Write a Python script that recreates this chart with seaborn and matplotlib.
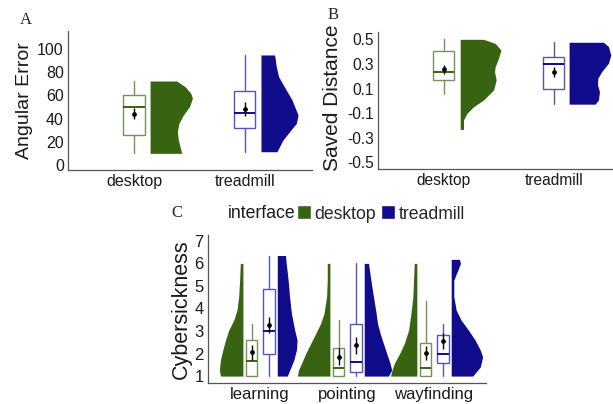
import numpy as np
import matplotlib
matplotlib.use('Agg')
import matplotlib.pyplot as plt
from matplotlib.patches import Patch
from matplotlib.colors import to_rgb
import seaborn as sns

# ---- data ----
interfaces = ['desktop', 'treadmill']
tasks = ['learning', 'pointing', 'wayfinding']

# A: angular error (box stats per interface)
A_whislo = [10.0, 11.4]
A_q1 = [25.6, 32.2]
A_med = [49.8, 45.1]
A_q3 = [60.7, 64.1]
A_whishi = [72.5, 95.0]
A_mean = [44.0, 48.3]
A_ci_lo = [39.7, 42.5]
A_ci_hi = [49.1, 54.1]
# half violin outlines (value, half width)
A_desk_v = [72.5, 67.6, 61.9, 57.6, 50.3, 43.1, 35.9, 28.7, 21.5, 15.7, 10.0]
A_desk_w = [0.24, 0.316, 0.367, 0.382, 0.355, 0.30, 0.26, 0.246, 0.255, 0.27, 0.286]
A_tread_v = [95.0, 84.9, 76.2, 67.6, 56.1, 43.1, 35.9, 30.2, 21.5, 11.4]
A_tread_w = [0.123, 0.138, 0.159, 0.21, 0.28, 0.334, 0.319, 0.27, 0.198, 0.144]

# B: saved distance
B_whislo = [0.053, -0.026]
B_q1 = [0.167, 0.093]
B_med = [0.237, 0.302]
B_q3 = [0.405, 0.359]
B_whishi = [0.50, 0.476]
B_mean = [0.256, 0.237]
B_ci_lo = [0.218, 0.191]
B_ci_hi = [0.291, 0.277]
B_desk_v = [0.50, 0.467, 0.413, 0.345, 0.278, 0.237, 0.169, 0.088, 0.007, -0.048, -0.102, -0.156, -0.232]
B_desk_w = [0.212, 0.318, 0.37, 0.348, 0.318, 0.312, 0.327, 0.303, 0.212, 0.121, 0.061, 0.03, 0.03]
B_tread_v = [0.476, 0.441, 0.373, 0.306, 0.238, 0.184, 0.130, 0.075, 0.008, -0.027]
B_tread_w = [0.312, 0.358, 0.379, 0.358, 0.297, 0.261, 0.258, 0.276, 0.267, 0.236]

# C: cybersickness per task
C_desk_whislo = [1.0, 1.0, 1.0]
C_desk_q1 = [1.0, 1.0, 1.0]
C_desk_med = [1.67, 1.37, 1.37]
C_desk_q3 = [2.6, 2.26, 2.48]
C_desk_whishi = [3.31, 3.48, 4.33]
C_desk_mean = [2.05, 1.86, 2.03]
C_desk_ci_lo = [1.71, 1.49, 1.71]
C_desk_ci_hi = [2.38, 2.23, 2.33]
C_tread_whislo = [1.0, 1.0, 1.0]
C_tread_q1 = [2.0, 1.16, 1.56]
C_tread_med = [3.01, 1.63, 2.0]
C_tread_q3 = [4.85, 3.31, 2.82]
C_tread_whishi = [6.35, 6.0, 3.29]
C_tread_mean = [3.26, 2.38, 2.57]
C_tread_ci_lo = [2.92, 2.0, 2.18]
C_tread_ci_hi = [3.6, 2.74, 2.9]

C_desk_v = [
    [6.0, 5.26, 4.52, 3.93, 3.48, 3.04, 2.6, 2.15, 1.71, 1.27, 1.0],
    [6.0, 5.26, 4.52, 3.78, 3.34, 2.89, 2.45, 2.0, 1.56, 1.27, 1.0],
    [6.0, 5.26, 4.52, 3.78, 3.04, 2.45, 2.0, 1.56, 1.27, 1.0],
]
C_desk_w = [
    [0.03, 0.038, 0.049, 0.068, 0.106, 0.163, 0.2, 0.232, 0.259, 0.27, 0.259],
    [0.03, 0.03, 0.038, 0.068, 0.106, 0.163, 0.22, 0.278, 0.327, 0.361, 0.373],
    [0.03, 0.038, 0.046, 0.068, 0.095, 0.144, 0.198, 0.259, 0.285, 0.304],
]
C_tread_v = [
    [6.35, 6.0, 5.26, 4.52, 3.78, 3.04, 2.6, 2.15, 1.71, 1.27, 1.0],
    [6.0, 5.26, 4.52, 3.78, 3.34, 2.89, 2.45, 2.0, 1.56, 1.27, 1.0],
    [6.18, 6.0, 5.7, 5.26, 4.52, 3.93, 3.48, 3.04, 2.6, 2.15, 1.86, 1.41, 1.0],
]
C_tread_w = [
    [0.095, 0.103, 0.125, 0.141, 0.163, 0.2, 0.228, 0.22, 0.19, 0.144, 0.114],
    [0.049, 0.076, 0.106, 0.137, 0.152, 0.183, 0.22, 0.259, 0.297, 0.316, 0.278],
    [0.095, 0.106, 0.076, 0.03, 0.03, 0.057, 0.114, 0.198, 0.274, 0.335, 0.361, 0.335, 0.247],
]

DESK = '#386412'
TREAD = '#100c8c'


def lighten(c, a=0.7):
    r = np.array(to_rgb(c))
    return tuple(a * r + (1 - a))


def half_violin(ax, x0, vals, widths, color, side=1):
    v = np.asarray(vals)
    w = np.asarray(widths)
    if side > 0:
        ax.fill_betweenx(v, x0, x0 + w, color=color, lw=0, zorder=2)
    else:
        ax.fill_betweenx(v, x0 - w, x0, color=color, lw=0, zorder=2)


def box(ax, x, lo, q1, med, q3, hi, color, width):
    light = lighten(color)
    stats = [dict(whislo=lo, q1=q1, med=med, q3=q3, whishi=hi)]
    ax.bxp(stats, positions=[x], widths=width, showfliers=False, showcaps=False,
           patch_artist=True, manage_ticks=False,
           boxprops=dict(facecolor='white', edgecolor=light, linewidth=1.0),
           whiskerprops=dict(color=light, linewidth=1.0),
           medianprops=dict(color=color, linewidth=1.4))


def mean_ci(ax, x, m, lo, hi):
    ax.errorbar([x], [m], yerr=[[m - lo], [hi - m]], fmt='o', color='black',
                ms=2.4, elinewidth=1.0, capsize=0, zorder=5)


def style(ax, ylabel, ysize, tsize):
    sns.despine(ax=ax)
    for s in ['left', 'bottom']:
        ax.spines[s].set_color('#555555')
        ax.spines[s].set_linewidth(0.9)
    ax.tick_params(length=0, labelsize=tsize, colors='#1a1a1a', pad=3)
    ax.set_ylabel(ylabel, fontsize=ysize, color='#1a1a1a')
    ax.grid(False)


sns.set_theme(style='white')
plt.rcParams['font.family'] = ['Liberation Sans', 'DejaVu Sans']

W, H = 613, 404
fig = plt.figure(figsize=(W / 100, H / 100), dpi=100)
axA = fig.add_axes([68 / W, 1 - 170 / H, 244 / W, 139 / H])
axB = fig.add_axes([377.7 / W, 1 - 168.5 / H, 235.3 / W, 136.8 / H])
axC = fig.add_axes([207.7 / W, 1 - 383.3 / H, 278.3 / W, 148.3 / H])

# ---- A ----
cols = [DESK, TREAD]
A_vv = [A_desk_v, A_tread_v]
A_ww = [A_desk_w, A_tread_w]
for i in range(2):
    x = i + 1
    box(axA, x - 0.005, A_whislo[i], A_q1[i], A_med[i], A_q3[i], A_whishi[i], cols[i], 0.19)
    mean_ci(axA, x - 0.005, A_mean[i], A_ci_lo[i], A_ci_hi[i])
    half_violin(axA, x + 0.14, A_vv[i], A_ww[i], cols[i])
axA.set_xlim(0.4, 2.6)
axA.set_ylim(-4.4, 115.7)
axA.set_yticks([0, 20, 40, 60, 80, 100])
axA.set_xticks([1, 2])
axA.set_xticklabels(interfaces)
style(axA, 'Angular Error', 14, 11.5)
axA.yaxis.set_label_coords(-0.142, 0.5)

# ---- B ----
B_vv = [B_desk_v, B_tread_v]
B_ww = [B_desk_w, B_tread_w]
B_vx = [1.15, 2.14]
for i in range(2):
    x = i + 1
    box(axB, x, B_whislo[i], B_q1[i], B_med[i], B_q3[i], B_whishi[i], cols[i], 0.196)
    mean_ci(axB, x, B_mean[i], B_ci_lo[i], B_ci_hi[i])
    half_violin(axB, B_vx[i], B_vv[i], B_ww[i], cols[i])
axB.set_xlim(0.4, 2.539)
axB.set_ylim(-0.55, 0.562)
b_ticks = [-0.5, -0.3, -0.1, 0.1, 0.3, 0.5]
axB.set_yticks(b_ticks)
axB.set_yticklabels([f'{t:.1f}' for t in b_ticks])
axB.set_xticks([1, 2])
axB.set_xticklabels(interfaces)
style(axB, 'Saved Distance', 15, 11.2)
axB.yaxis.set_label_coords(-0.153, 0.52)

# ---- C ----
for j in range(3):
    x = j + 1
    box(axC, x - 0.095, C_desk_whislo[j], C_desk_q1[j], C_desk_med[j], C_desk_q3[j],
        C_desk_whishi[j], DESK, 0.133)
    mean_ci(axC, x - 0.095, C_desk_mean[j], C_desk_ci_lo[j], C_desk_ci_hi[j])
    box(axC, x + 0.105, C_tread_whislo[j], C_tread_q1[j], C_tread_med[j], C_tread_q3[j],
        C_tread_whishi[j], TREAD, 0.133)
    mean_ci(axC, x + 0.105, C_tread_mean[j], C_tread_ci_lo[j], C_tread_ci_hi[j])
    half_violin(axC, x - 0.195, C_desk_v[j], C_desk_w[j], DESK, side=-1)
    half_violin(axC, x + 0.2, C_tread_v[j], C_tread_w[j], TREAD, side=1)
axC.set_xlim(0.4, 3.6)
axC.set_ylim(0.68, 7.26)
axC.set_yticks([1, 2, 3, 4, 5, 6, 7])
axC.set_xticks([1, 2, 3])
axC.set_xticklabels(tasks)
style(axC, 'Cybersickness', 15.5, 12)
axC.yaxis.set_label_coords(-0.057, 0.5)

# legend above C
fig.text(228 / W, 1 - 214 / H, 'interface', fontsize=12.7, va='center', ha='left', color='#1a1a1a')
handles = [Patch(facecolor=DESK, label='desktop'), Patch(facecolor=TREAD, label='treadmill')]
fig.legend(handles=handles, loc='center left', bbox_to_anchor=(297 / W, 1 - 214 / H), ncol=2,
           frameon=False, fontsize=12.7, handlelength=0.8, handleheight=0.85,
           handletextpad=0.2, columnspacing=0.25, borderpad=0, borderaxespad=0)

# panel letters
for lab, px, py in [('A', 25.8, 20.5), ('B', 333, 15), ('C', 176.7, 213.3)]:
    fig.text(px / W, 1 - py / H, lab, family='Liberation Serif', fontsize=12,
             ha='center', va='center')

fig.savefig('out.png', dpi=100)
